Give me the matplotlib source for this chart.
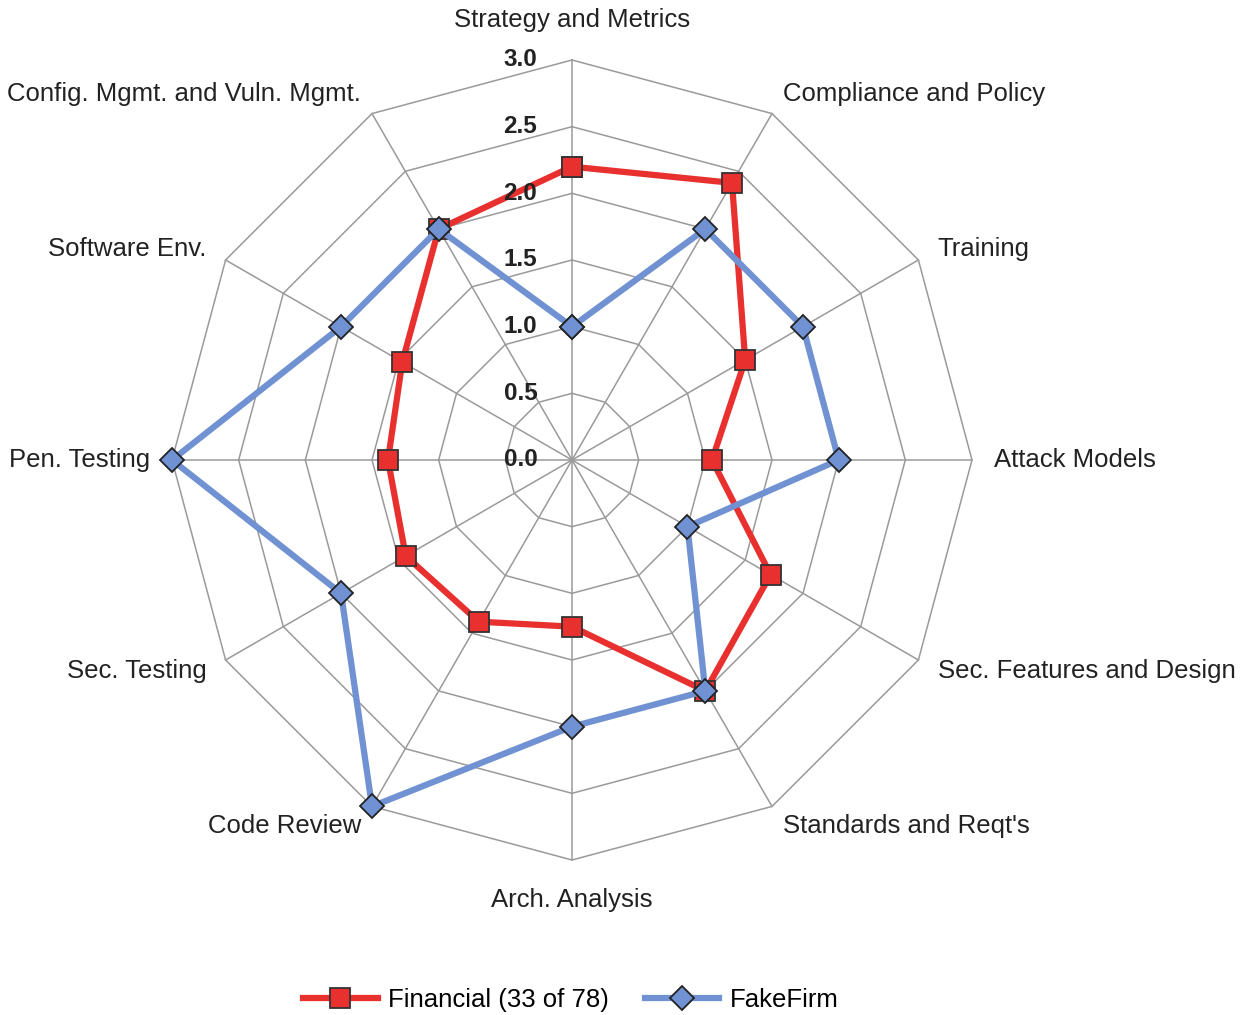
import numpy as np
import matplotlib.pyplot as plt

plt.rcParams['font.family'] = ['Liberation Sans', 'DejaVu Sans']

categories = ["Strategy and Metrics", "Compliance and Policy", "Training",
              "Attack Models", "Sec. Features and Design", "Standards and Reqt's",
              "Arch. Analysis", "Code Review", "Sec. Testing", "Pen. Testing",
              "Software Env.", "Config. Mgmt. and Vuln. Mgmt."]
financial = [2.2, 2.4, 1.5, 1.05, 1.72, 2.0, 1.25, 1.4, 1.44, 1.38, 1.47, 2.0]
fakefirm = [1.0, 2.0, 2.0, 2.0, 1.0, 2.0, 2.0, 3.0, 2.0, 3.0, 2.0, 2.0]
levels = [0.5, 1.0, 1.5, 2.0, 2.5, 3.0]
tick_labels = ["0.0", "0.5", "1.0", "1.5", "2.0", "2.5", "3.0"]

red = '#E8312F'
blue = '#7092D2'
grid_col = '#9a9a9a'

n = len(categories)
theta = np.arange(n) * 2 * np.pi / n
theta_c = np.append(theta, theta[0])

fig = plt.figure(figsize=(12.41, 10.15), dpi=100)
ax = fig.add_axes([172/1241, 1 - 860/1015, 800/1241, 800/1015], projection='polar')
ax.set_theta_zero_location('N')
ax.set_theta_direction(-1)
ax.set_ylim(0, 3.0)
ax.grid(False)
ax.spines['polar'].set_visible(False)
ax.set_xticks([])
ax.set_yticks([])

# polygon grid
for lv in levels:
    ax.plot(theta_c, [lv] * (n + 1), color=grid_col, lw=1.1, zorder=1, clip_on=False)
for t in theta:
    ax.plot([t, t], [0, 3.0], color=grid_col, lw=1.1, zorder=1, clip_on=False)

# series
ax.plot(theta_c, financial + financial[:1], color=red, lw=4.5, marker='s', ms=15,
        mfc=red, mec='#333333', mew=1.3, zorder=3, clip_on=False,
        label='Financial (33 of 78)')
ax.plot(theta_c, fakefirm + fakefirm[:1], color=blue, lw=4.5, marker='D', ms=12,
        mfc=blue, mec='#222222', mew=1.3, zorder=4, clip_on=False, label='FakeFirm')

# radial tick labels
for i, lab in enumerate(tick_labels):
    ax.annotate(lab, xy=(0, i * 0.5), xytext=(-25, 0), textcoords='offset points',
                ha='right', va='center', fontsize=17.5, fontweight='bold',
                color='#222222', zorder=5, annotation_clip=False)

# category labels
for t, lab in zip(theta, categories):
    s, c = np.sin(t), np.cos(t)
    if abs(s) < 0.1:
        d = 29
        ha = 'center'
    else:
        d = 16
        ha = 'left' if s > 0 else 'right'
    ax.annotate(lab, xy=(t, 3.0), xytext=(d * s, d * c), textcoords='offset points',
                ha=ha, va='center', fontsize=18.5, color='#222222',
                annotation_clip=False)

fig.legend(loc='lower center', bbox_to_anchor=(0.46, -0.02), ncol=2, frameon=False,
           fontsize=18.5, handlelength=2.9, columnspacing=1.4, handletextpad=0.4)

fig.savefig('out.png', dpi=100, facecolor='white')
